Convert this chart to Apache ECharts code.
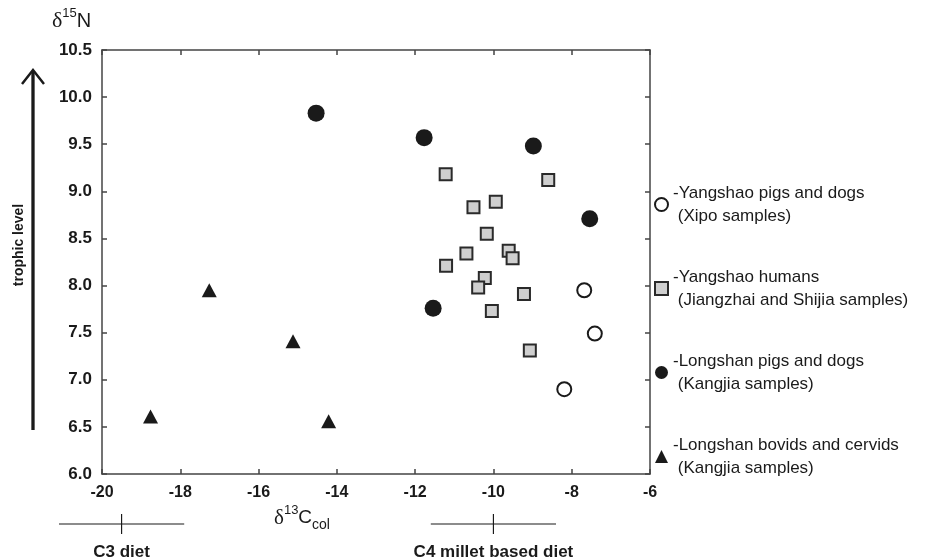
<!DOCTYPE html>
<html>
<head>
<meta charset="utf-8">
<title>d13C / d15N</title>
<script src="https://cdn.jsdelivr.net/npm/echarts@6/dist/echarts.min.js"></script>
<style>
    html, body { margin: 0; padding: 0; background: #fff; }
    #chart { width: 938px; height: 559px; }
</style>
</head>
<body>
<div id="chart"></div>
<script>
// values: [d13C, d15N]
const yangshaoPigsDogs = [[-7.68, 7.95], [-7.41, 7.49], [-8.19, 6.90]];
const yangshaoHumans = [
    [-11.22, 9.18], [-8.60, 9.12], [-10.51, 8.83], [-9.94, 8.89], [-10.17, 8.55],
    [-10.69, 8.34], [-9.61, 8.37], [-9.51, 8.29], [-11.21, 8.21], [-10.22, 8.08],
    [-10.39, 7.98], [-9.22, 7.91], [-10.04, 7.73], [-9.07, 7.31]
];
const longshanPigsDogs = [[-14.53, 9.83], [-11.77, 9.57], [-8.98, 9.48], [-7.54, 8.71], [-11.54, 7.76]];
const longshanBovids = [[-17.26, 7.95], [-15.12, 7.41], [-18.76, 6.61], [-14.21, 6.56]];

const legendNames = ['-Yangshao pigs and dogs', '-Yangshao humans', '-Longshan pigs and dogs', '-Longshan bovids and cervids'];
const legendNotes = ['(Xipo samples)', '(Jiangzhai and Shijia samples)', '(Kangjia samples)', '(Kangjia samples)'];

const xMin = -20, xMax = -6, xStep = 2;
const yMin = 6, yMax = 10.5, yStep = 0.5;

// diet brackets under the x axis
const dietLabels = ['C3 diet', 'C4 millet based diet'];
const dietCenters = [-19.5, -10];
const dietSpans = [[-21.1, -17.9], [-11.6, -8.4]];

const sans = '"Liberation Sans", Arial, Helvetica, sans-serif';
const serif = '"Liberation Serif", "Times New Roman", serif';
const ink = '#1a1a1a';
const axisLine = { show: true, lineStyle: { color: '#444', width: 1.5 } };
const axisTick = { show: true, inside: true, length: 5, lineStyle: { color: '#444', width: 1.5 } };

let chart = echarts.init(document.getElementById('chart'));

let option = {
    animation: false,
    backgroundColor: '#fff',
    grid: { left: 102, right: 288, top: 50, bottom: 85 },
    xAxis: [
        {
            type: 'value', min: xMin, max: xMax, interval: xStep, position: 'bottom',
            axisLine: axisLine, axisTick: axisTick, splitLine: { show: false },
            axisLabel: { margin: 11, color: ink, fontFamily: sans, fontSize: 16, fontWeight: 'bold' }
        },
        {
            type: 'value', min: xMin, max: xMax, interval: xStep, position: 'top',
            axisLine: axisLine, axisTick: axisTick, splitLine: { show: false },
            axisLabel: { show: false }
        }
    ],
    yAxis: [
        {
            type: 'value', min: yMin, max: yMax, interval: yStep, position: 'left',
            axisLine: axisLine, axisTick: axisTick, splitLine: { show: false },
            axisLabel: {
                margin: 10, color: ink, fontFamily: sans, fontSize: 17, fontWeight: 'bold',
                formatter: function (v) { return v.toFixed(1); }
            }
        },
        {
            type: 'value', min: yMin, max: yMax, interval: yStep, position: 'right',
            axisLine: axisLine, axisTick: axisTick, splitLine: { show: false },
            axisLabel: { show: false }
        }
    ],
    legend: {
        orient: 'vertical',
        left: 649,
        top: 165,
        itemWidth: 13,
        itemHeight: 13,
        itemGap: 15,
        selectedMode: false,
        data: legendNames,
        formatter: function (name) {
            return name + '\n ' + legendNotes[legendNames.indexOf(name)];
        },
        textStyle: {
            color: ink, fontFamily: sans, fontSize: 17, lineHeight: 23,
            padding: [23, 0, 0, 0]
        }
    },
    series: [
        {
            name: legendNames[0], type: 'scatter', data: yangshaoPigsDogs,
            symbol: 'circle', symbolSize: 14,
            itemStyle: { color: '#fff', borderColor: ink, borderWidth: 2, opacity: 1 }
        },
        {
            name: legendNames[1], type: 'scatter', data: yangshaoHumans,
            symbol: 'rect', symbolSize: 12,
            itemStyle: { color: '#cfcfcf', borderColor: '#2a2a2a', borderWidth: 2, opacity: 1 }
        },
        {
            name: legendNames[2], type: 'scatter', data: longshanPigsDogs,
            symbol: 'circle', symbolSize: 17,
            itemStyle: { color: ink, opacity: 1 }
        },
        {
            name: legendNames[3], type: 'scatter', data: longshanBovids,
            symbol: 'triangle', symbolSize: [15, 14],
            itemStyle: { color: ink, opacity: 1 }
        }
    ]
};
chart.setOption(option);

// annotations: axis titles, trophic arrow, diet brackets
let graphics = [
    {
        type: 'text', left: 52, top: 7,
        style: {
            text: '{d|δ}{s|15}{n|N}',
            rich: {
                d: { fontFamily: serif, fontSize: 22, fill: ink, lineHeight: 28 },
                s: { fontFamily: sans, fontSize: 13, fill: ink, verticalAlign: 'top' },
                n: { fontFamily: sans, fontSize: 20, fill: ink, lineHeight: 28 }
            }
        }
    },
    {
        type: 'text', left: 274, top: 504,
        style: {
            text: '{d|δ}{s|13}{n|C}{b|col}',
            rich: {
                d: { fontFamily: serif, fontSize: 21, fill: ink, lineHeight: 28 },
                s: { fontFamily: sans, fontSize: 13, fill: ink, verticalAlign: 'top' },
                n: { fontFamily: sans, fontSize: 19, fill: ink, lineHeight: 28 },
                b: { fontFamily: sans, fontSize: 14, fill: ink, verticalAlign: 'bottom' }
            }
        }
    },
    {
        type: 'text', x: 19, y: 245, rotation: Math.PI / 2,
        style: {
            text: 'trophic level', fontFamily: sans, fontSize: 14, fontWeight: 'bold',
            fill: ink, align: 'center', verticalAlign: 'middle'
        }
    },
    {
        type: 'polyline',
        shape: { points: [[33, 430], [33, 71]] },
        style: { stroke: ink, lineWidth: 3.3 }
    },
    {
        type: 'polyline',
        shape: { points: [[22, 84], [33, 70], [44, 84]] },
        style: { stroke: ink, lineWidth: 2.5, fill: null }
    }
];

let bracketY = 524;
for (let i = 0; i < dietLabels.length; i++) {
    let x0 = chart.convertToPixel({ xAxisIndex: 0 }, dietSpans[i][0]);
    let x1 = chart.convertToPixel({ xAxisIndex: 0 }, dietSpans[i][1]);
    let xc = chart.convertToPixel({ xAxisIndex: 0 }, dietCenters[i]);
    graphics.push({
        type: 'line',
        shape: { x1: x0, y1: bracketY, x2: x1, y2: bracketY },
        style: { stroke: ink, lineWidth: 1.2 }
    });
    graphics.push({
        type: 'line',
        shape: { x1: xc, y1: bracketY - 10, x2: xc, y2: bracketY + 10 },
        style: { stroke: ink, lineWidth: 1.2 }
    });
    graphics.push({
        type: 'text', x: xc, y: 552,
        style: {
            text: dietLabels[i], fontFamily: sans, fontSize: 17, fontWeight: 'bold',
            fill: ink, align: 'center', verticalAlign: 'middle'
        }
    });
}
chart.setOption({ graphic: graphics });
</script>
</body>
</html>
